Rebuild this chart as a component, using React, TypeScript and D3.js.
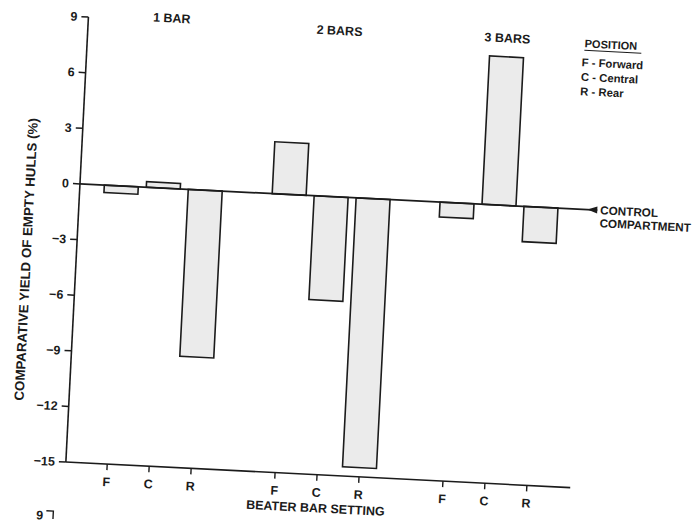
import React from "react";
import * as d3 from "d3";

// bar groups along the x axis and positions within each group
const groups = ["1 BAR", "2 BARS", "3 BARS"];
const positions = ["F", "C", "R"];

// comparative yield of empty hulls (%) for F, C, R in each group
const oneBar = [-0.4, 0.3, -9.0];
const twoBars = [2.8, -5.6, -14.5];
const threeBars = [-0.8, 8.0, -1.9];

const yTicks = [-15, -12, -9, -6, -3, 0, 3, 6, 9];

const legendTitle = "POSITION";
const legendItems = ["F - Forward", "C - Central", "R - Rear"];

const W = 700;
const H = 522;
const FONT = "'Liberation Sans', Arial, Helvetica, sans-serif";
const INK = "#1b1b1b";

export default function App() {
  const series = [oneBar, twoBars, threeBars];

  // one slot per bar, with an empty slot between the groups
  const slots: string[] = [];
  groups.forEach((g, gi) => {
    positions.forEach((p) => slots.push(g + "|" + p));
    if (gi < groups.length - 1) slots.push("gap" + gi);
  });

  const x = d3.scalePoint<string>().domain(slots).range([121.4, 541.6]);
  const y = d3.scaleLinear().domain([-15, 9]).range([462.4, 16.8]);
  const barW = 34;
  const axisX = 80;
  const y0 = y(0);
  const yBottom = y(-15);

  const bars = groups.flatMap((g, gi) =>
    positions.map((p, pi) => ({ key: g + "|" + p, pos: p, value: series[gi][pi] }))
  );

  const groupLabelY = [18, 22, 21];

  return (
    <svg
      width={W}
      height={H}
      style={{ position: "absolute", left: 0, top: 0, background: "#fff" }}
      fontFamily={FONT}
      fontWeight="bold"
    >
      <g transform="rotate(2.9, 80, 183)">
        {/* bars */}
        {bars.map((b) => (
          <rect
            key={b.key}
            x={(x(b.key) as number) - barW / 2}
            y={Math.min(y(b.value), y0)}
            width={barW}
            height={Math.abs(y(b.value) - y0)}
            fill="#ebebeb"
            stroke={INK}
            strokeWidth={1.6}
          />
        ))}

        {/* y axis */}
        <line x1={axisX} x2={axisX} y1={y(9)} y2={yBottom} stroke={INK} strokeWidth={1.6} />
        {yTicks.map((t) => (
          <g key={t} transform={`translate(${axisX},${y(t)})`}>
            <line x1={-7} x2={0} stroke={INK} strokeWidth={1.5} />
            <text x={-11} dy="0.35em" textAnchor="end" fontSize={12.5} fill={INK}>
              {t < 0 ? "\u2212" + Math.abs(t) : t}
            </text>
          </g>
        ))}

        {/* bottom axis */}
        <line x1={axisX} x2={585} y1={yBottom} y2={yBottom} stroke={INK} strokeWidth={1.6} />
        {bars.map((b) => (
          <g key={"t" + b.key} transform={`translate(${x(b.key)},${yBottom})`}>
            <line y1={0} y2={6} stroke={INK} strokeWidth={1.4} />
            <text y={22} textAnchor="middle" fontSize={12.5} fill={INK}>
              {b.pos}
            </text>
          </g>
        ))}

        {/* zero / control line */}
        <line x1={axisX} x2={598} y1={y0} y2={y0} stroke={INK} strokeWidth={1.8} />
        <path d={`M588,${y0} l10,-3.5 l0,7 z`} fill={INK} />
        <text x={601} y={y0 + 4} fontSize={11.7} fill={INK}>CONTROL</text>
        <text x={601} y={y0 + 17} fontSize={11.7} fill={INK}>COMPARTMENT</text>

        {/* group labels */}
        {groups.map((g, gi) => (
          <text
            key={g}
            x={x(g + "|C") as number}
            y={groupLabelY[gi]}
            textAnchor="middle"
            fontSize={12.5}
            fill={INK}
          >
            {g}
          </text>
        ))}

        {/* legend */}
        <text x={577} y={22} fontSize={11} fill={INK}>
          {legendTitle}
        </text>
        <line x1={577} x2={634} y1={25} y2={25} stroke={INK} strokeWidth={1} />
        {legendItems.map((item, i) => (
          <text key={item} x={575} y={41 + i * 14.5} fontSize={11.3} fill={INK}>
            {item}
          </text>
        ))}

        {/* axis titles */}
        <text
          transform="translate(30,262) rotate(-90)"
          textAnchor="middle"
          dy="0.35em"
          fontSize={13.3}
          fill={INK}
        >
          COMPARATIVE YIELD OF EMPTY HULLS (%)
        </text>
        <text x={x("2 BARS|C") as number} y={500} textAnchor="middle" fontSize={12.5} fill={INK}>
          BEATER BAR SETTING
        </text>

        {/* top of the next figure on the page */}
        <text x={60} y={521} textAnchor="end" fontSize={12.5} fill={INK}>9</text>
        <path d="M63,512 h7 v8" fill="none" stroke={INK} strokeWidth={1.4} />
      </g>
    </svg>
  );
}
